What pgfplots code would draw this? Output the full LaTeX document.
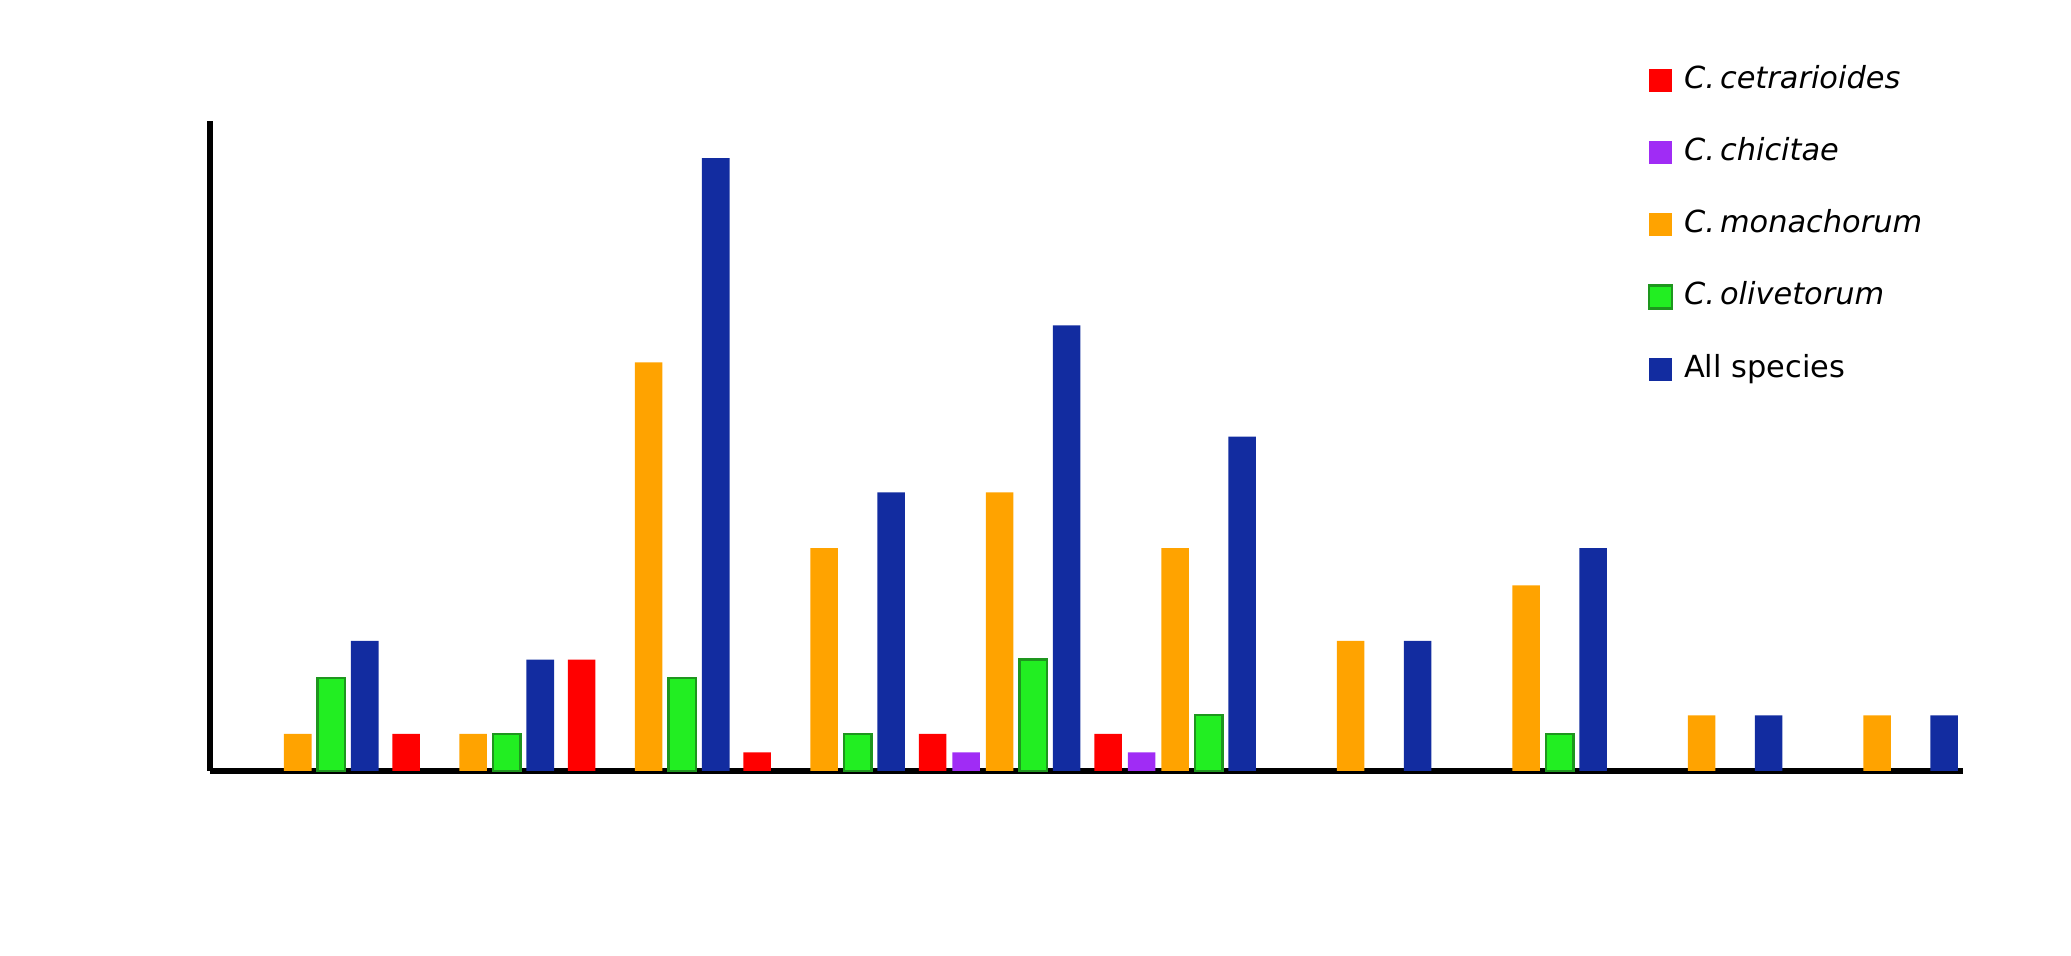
\documentclass[border=0pt]{standalone}
\usepackage{pgfplots}
\pgfplotsset{compat=1.18}
\usepackage{fontspec}
\setmainfont{DejaVu Sans}
\definecolor{cred}{RGB}{255,0,0}
\definecolor{cpurple}{RGB}{160,44,245}
\definecolor{corange}{RGB}{255,163,0}
\definecolor{cgreen}{RGB}{34,238,34}
\definecolor{cgreenedge}{RGB}{30,150,30}
\definecolor{cblue}{RGB}{18,44,160}
\begin{document}
\begin{tikzpicture}
\useasboundingbox (0,0) rectangle (1035.5pt,478pt);
\begin{axis}[
  at={(105pt,92.5pt)}, anchor=south west,
  scale only axis, width=876.5pt, height=325pt,
  xmin=-0.5, xmax=9.49, ymin=0, ymax=35,
  axis x line=bottom, axis y line=left,
  axis line style={-, line width=2.75pt, black},
  xtick=\empty, ytick=\empty,
  clip=false,
  mylegend/.style={legend image code/.code={\path[##1] (0pt,-5.75pt) rectangle (11.5pt,5.75pt);}},
  legend style={draw=none, fill=none, at={(axis description cs:0.8165,0.8405)}, anchor=west,
    font=\fontsize{15.2}{17}\selectfont, row sep=22.1pt,
    nodes={inner sep=0pt, text height=11pt, text depth=3pt},
    /tikz/every odd column/.append style={column sep=5.5pt}},
  legend cell align=left,
]
\addplot[ybar, bar width=0.157, bar shift=-0.382, fill=cred, draw=none, mylegend]
  coordinates {(1,2) (2,6) (3,1) (4,2) (5,2)};
\addlegendentry{\textit{C.\,cetrarioides}}
\addplot[ybar, bar width=0.157, bar shift=-0.191, fill=cpurple, draw=none, mylegend]
  coordinates {(4,1) (5,1)};
\addlegendentry{\textit{C.\,chicitae}}
\addplot[ybar, bar width=0.157, bar shift=0, fill=corange, draw=none, mylegend]
  coordinates {(0,2) (1,2) (2,22) (3,12) (4,15) (5,12) (6,7) (7,10) (8,3) (9,3)};
\addlegendentry{\textit{C.\,monachorum}}
\addplot[ybar, bar width=0.157, bar shift=0.191, fill=cgreen, draw=cgreenedge, line width=1.2pt, mylegend]
  coordinates {(0,5) (1,2) (2,5) (3,2) (4,6) (5,3) (7,2)};
\addlegendentry{\textit{C.\,olivetorum}}
\addplot[ybar, bar width=0.157, bar shift=0.382, fill=cblue, draw=none, mylegend]
  coordinates {(0,7) (1,6) (2,33) (3,15) (4,24) (5,18) (6,7) (7,12) (8,3) (9,3)};
\addlegendentry{All species}
\end{axis}
\end{tikzpicture}
\end{document}
